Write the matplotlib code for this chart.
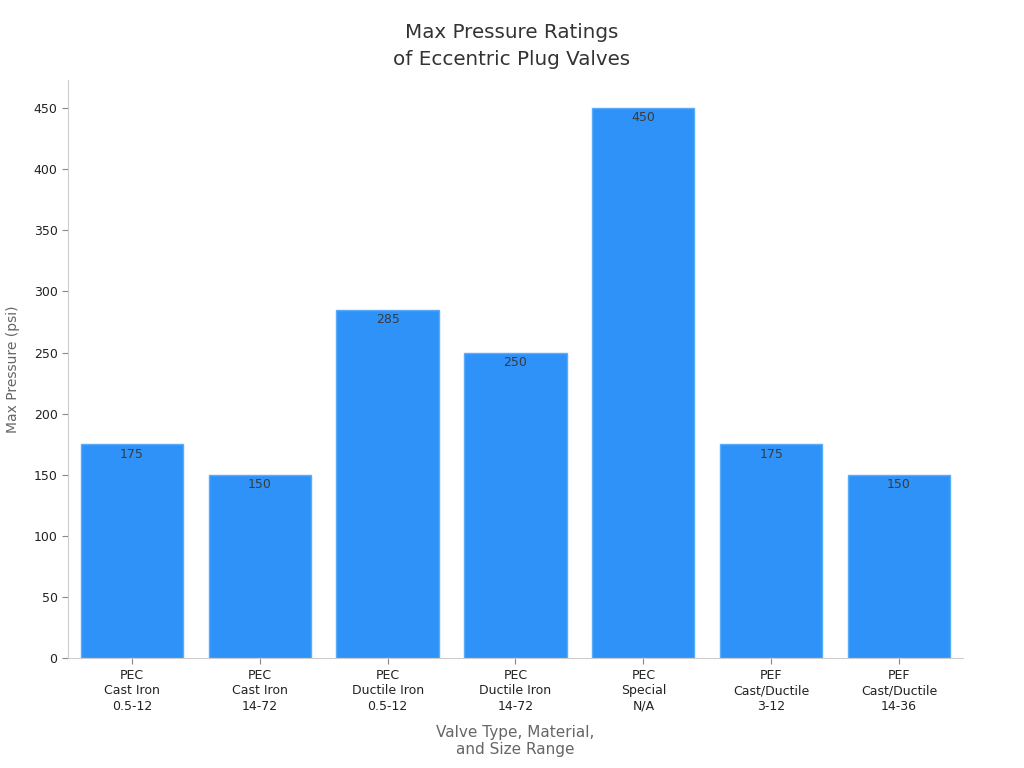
import matplotlib
matplotlib.use("Agg")
import matplotlib.pyplot as plt

categories = ["PEC\nCast Iron\n0.5-12", "PEC\nCast Iron\n14-72", "PEC\nDuctile Iron\n0.5-12",
              "PEC\nDuctile Iron\n14-72", "PEC\nSpecial\nN/A", "PEF\nCast/Ductile\n3-12",
              "PEF\nCast/Ductile\n14-36"]
pressures = [175, 150, 285, 250, 450, 175, 150]
yticks = [0, 50, 100, 150, 200, 250, 300, 350, 400, 450]

plt.rcParams['font.family'] = ['DejaVu Sans']
fig = plt.figure(figsize=(10.24, 7.68), dpi=100)
ax = fig.add_axes([0.0664, 0.143, 0.874, 0.753])

x = list(range(len(categories)))
bars = ax.bar(x, pressures, width=0.8, color="#2F92F8", edgecolor="#5AABFA", linewidth=1)
for xi, v in zip(x, pressures):
    ax.annotate(str(v), (xi, v), xytext=(0, -2.5), textcoords="offset points",
                ha="center", va="top", fontsize=9, color="#3a3a3a")

ax.set_xlim(-0.5, 6.5)
ax.set_ylim(0, 473)
ax.set_xticks(x)
ax.set_xticklabels(categories, fontsize=9, color="#222222", linespacing=1.25)
ax.set_yticks(yticks)
ax.set_yticklabels([str(t) for t in yticks], fontsize=9, color="#222222")
for s in ["top", "right"]:
    ax.spines[s].set_visible(False)
for s in ["left", "bottom"]:
    ax.spines[s].set_color("#cccccc")
ax.tick_params(axis="both", colors="#888888", length=4, labelcolor="#222222")

ax.set_xlabel("Valve Type, Material,\nand Size Range", fontsize=11, color="#666666", labelpad=9)
ax.set_ylabel("Max Pressure (psi)", fontsize=10, color="#666666", labelpad=10)
fig.suptitle("Max Pressure Ratings\nof Eccentric Plug Valves", fontsize=14.3, color="#333333",
             y=0.97, linespacing=1.5)

fig.savefig("out.png", dpi=100)
